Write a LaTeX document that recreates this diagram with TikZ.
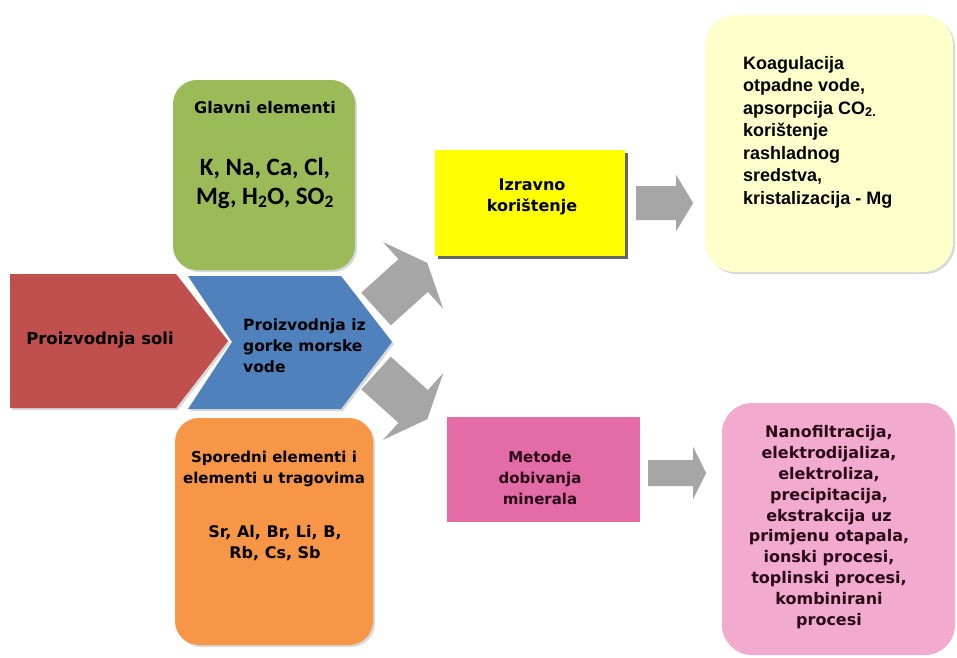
\documentclass[tikz,border=0pt]{standalone}
\usepackage{fontspec}
\setmainfont{DejaVu Sans}
\newfontfamily\arialfont{Liberation Sans}
\newfontfamily\calibrifont{Carlito}
\usetikzlibrary{positioning}
\usetikzlibrary{calc}
\usetikzlibrary{shadows}

\definecolor{solired}{HTML}{C0504D}
\definecolor{vodablue}{HTML}{4F81BD}
\definecolor{glavnigreen}{HTML}{9BBB59}
\definecolor{sporedniorange}{HTML}{F79646}
\definecolor{izravnoyellow}{HTML}{FFFF00}
\definecolor{koagcream}{HTML}{FFFFCC}
\definecolor{metodepink}{HTML}{E36BA6}
\definecolor{nanopink}{HTML}{F2ABCE}
\definecolor{arrowgray}{HTML}{A6A6A6}
\definecolor{pinkink}{HTML}{2A0A18}

\tikzset{
	txt/.style={font=\bfseries\fontsize{15}{21}\selectfont, align=center, inner sep=0pt},
	bigtxt/.style={txt, font=\bfseries\fontsize{16}{21}\selectfont},
	roundbox/.style={rounded corners=24pt, inner sep=0pt},
	softshadow/.style={drop shadow={shadow xshift=2pt, shadow yshift=-2pt, opacity=.3}},
}

\begin{document}
\begin{tikzpicture}[x=1pt, y=-1pt]
	\useasboundingbox (0,0) rectangle (957,657);
	\fill[white] (0,0) rectangle (957,657);
	% left chevrons
	\fill[solired, softshadow] (10,274) -- (176,274) -- (228,341) -- (176,408) -- (10,408) -- cycle;
	\fill[vodablue, softshadow] (188,276) -- (341,276) -- (392,342) -- (341,409) -- (188,409) -- (232,342) -- cycle;
	\node[txt, font=\bfseries\fontsize{16.5}{21}\selectfont] (soli) at (100,340) {Proizvodnja soli};
	\node[txt, align=left, anchor=west, font=\bfseries\fontsize{15.5}{21}\selectfont] (gorke) at (243,346) {Proizvodnja iz\\gorke morske\\vode};
	% element boxes
	\node[roundbox, fill=glavnigreen, softshadow, minimum width=182, minimum height=190] (glavni) at (264,175) {};
	\node[bigtxt] (glavnitxt) at (265,108) {Glavni elementi};
	\node[txt, font=\calibrifont\bfseries\fontsize{25}{29}\selectfont] (glavnilist) at (265,183) {K, Na, Ca, Cl,\\Mg, H\textsubscript{2}O, SO\textsubscript{2}};
	\node[roundbox, fill=sporedniorange, softshadow, minimum width=198, minimum height=227] (sporedni) at (274,531.5) {};
	\node[txt] (sporednitxt) at (274,469) {Sporedni elementi i\\elementi u tragovima};
	\node[bigtxt] (sporednilist) at (275,543) {Sr, Al, Br, Li, B,\\Rb, Cs, Sb};
	% diverging arrows
	\begin{scope}[shift={(376,309)}, rotate=42]
		\fill[arrowgray] (0,-22) -- (50,-22) -- (50,-45) -- (69,0) -- (50,45) -- (50,22) -- (0,22) -- cycle;
	\end{scope}
	\begin{scope}[shift={(376,373)}, rotate=-42]
		\fill[arrowgray] (0,-22) -- (50,-22) -- (50,-45) -- (69,0) -- (50,45) -- (50,22) -- (0,22) -- cycle;
	\end{scope}
	% middle boxes
	\node[fill=izravnoyellow, minimum width=190, minimum height=106, drop shadow={shadow xshift=3pt, shadow yshift=-3pt, fill=black!60, opacity=1}] (izravno) at (530,203) {};
	\node[bigtxt] (izravnotxt) at (532,197) {Izravno\\korištenje};
	\node[fill=metodepink, minimum width=193, minimum height=105] (metode) at (543.5,469.5) {};
	\node[txt, text=pinkink] (metodetxt) at (540,478) {Metode\\dobivanja\\minerala};
	% right boxes
	\node[roundbox, rounded corners=30pt, fill=koagcream, softshadow, minimum width=248, minimum height=257] (koag) at (829,143.5) {};
	\node[txt, align=left, anchor=west, font=\arialfont\bfseries\fontsize{18}{22.5}\selectfont] (koagtxt) at (743,132) {Koagulacija\\otpadne vode,\\apsorpcija CO\textsubscript{2.}\\korištenje\\rashladnog\\sredstva,\\kristalizacija - Mg};
	\node[roundbox, rounded corners=30pt, fill=nanopink, minimum width=233, minimum height=252] (nano) at (838.5,529) {};
	\node[txt, text=pinkink, font=\bfseries\fontsize{16}{20.8}\selectfont] (nanotxt) at (829,527) {Nanofiltracija,\\elektrodijaliza,\\elektroliza,\\precipitacija,\\ekstrakcija uz\\primjenu otapala,\\ionski procesi,\\toplinski procesi,\\kombinirani\\procesi};
	% straight arrows
	\begin{scope}[shift={($(izravno.east)+(11,0)$)}]
		\fill[arrowgray] (0,-17) -- (40,-17) -- (40,-28) -- (57,0) -- (40,28) -- (40,17) -- (0,17) -- cycle;
	\end{scope}
	\begin{scope}[shift={($(metode.east)+(8,3.5)$)}]
		\fill[arrowgray] (0,-13) -- (45,-13) -- (45,-26) -- (58,0) -- (45,26) -- (45,13) -- (0,13) -- cycle;
	\end{scope}
\end{tikzpicture}
\end{document}
